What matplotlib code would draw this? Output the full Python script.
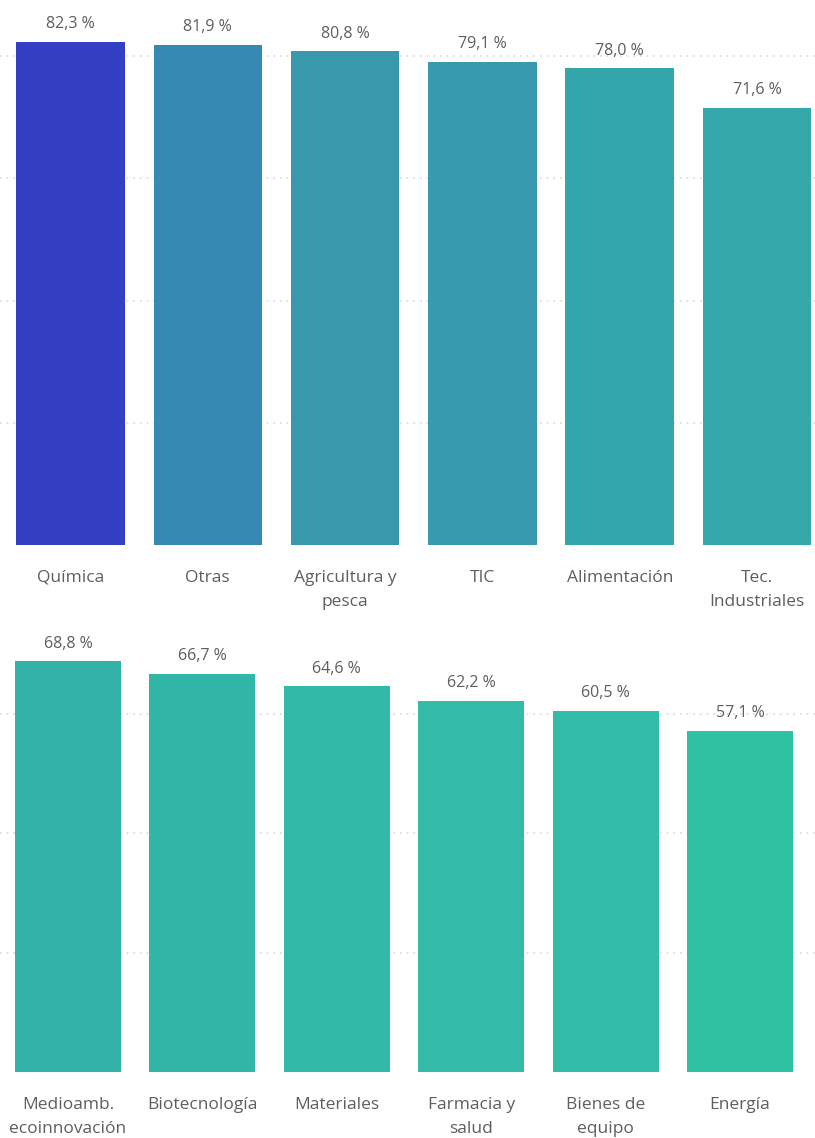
import matplotlib
matplotlib.use("Agg")
import matplotlib.pyplot as plt

plt.rcParams['font.family'] = ['Open Sans', 'DejaVu Sans']

cats_top = ["Química", "Otras", "Agricultura y\npesca", "TIC", "Alimentación", "Tec.\nIndustriales"]
vals_top = [82.3, 81.9, 80.8, 79.1, 78.0, 71.6]
cols_top = ["#3340C4", "#3689B0", "#3898AC", "#389AAE", "#33A6AC", "#35A8AC"]

cats_bot = ["Medioamb.\necoinnovación", "Biotecnología", "Materiales", "Farmacia y\nsalud", "Bienes de\nequipo", "Energía"]
vals_bot = [68.8, 66.7, 64.6, 62.2, 60.5, 57.1]
cols_bot = ["#33B2A8", "#32B6A8", "#33B9A8", "#33BBA8", "#33BCA7", "#2EC2A2"]

grid_ticks = [20, 40, 60, 80]

W, H = 815, 1138
fig = plt.figure(figsize=(W / 100, H / 100), dpi=100)

def panel(rect, cats, vals, cols, xlim, ylim):
    ax = fig.add_axes(rect)
    x = list(range(len(cats)))
    ax.bar(x, vals, width=0.79, color=cols, zorder=2)
    ax.set_yticks([t for t in grid_ticks if t < ylim[1]])
    ax.set_xlim(*xlim)
    ax.set_ylim(*ylim)
    ax.yaxis.grid(True, color="#D8D8D8", linestyle=(0, (1, 3)), linewidth=1.2, zorder=0)
    ax.set_yticklabels([])
    ax.tick_params(axis='y', length=0)
    ax.set_xticks(x)
    ax.set_xticklabels(cats, fontsize=12.5, color="#605E5C", linespacing=1.65, va='top')
    ax.tick_params(axis='x', length=0, pad=18)
    for s in ax.spines.values():
        s.set_visible(False)
    for xi, v in zip(x, vals):
        ax.annotate(f"{v:.1f} %".replace(".", ","), (xi, v), xytext=(0, 7),
                    textcoords="offset points", ha='center', va='bottom',
                    fontsize=11.5, color="#605E5C", annotation_clip=False)
    return ax

panel([0, 1 - 545 / H, 1, (545 - 10) / H], cats_top, vals_top, cols_top,
      (-0.513, 5.422), (0, (545 - 10) / 6.11))
panel([0, 1 - 1072 / H, 1, (1072 - 635) / H], cats_bot, vals_bot, cols_bot,
      (-0.506, 5.558), (0, (1072 - 635) / 5.97))

fig.savefig("out.png", dpi=100, facecolor="white")
